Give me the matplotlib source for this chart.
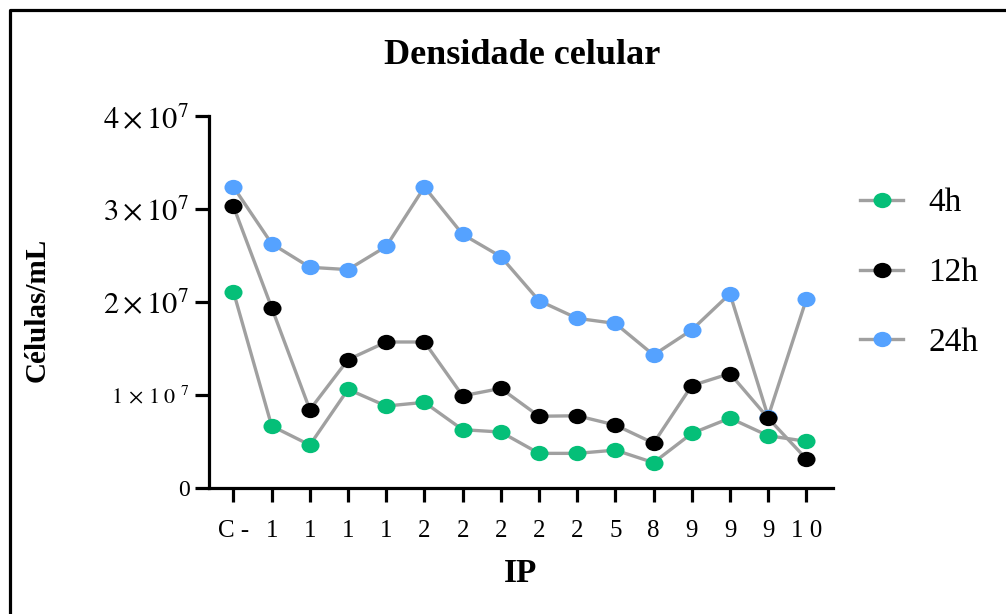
import matplotlib
matplotlib.use("Agg")
import matplotlib.pyplot as plt
from matplotlib.lines import Line2D
from matplotlib.path import Path
from matplotlib.markers import MarkerStyle
from matplotlib.transforms import ScaledTranslation
import numpy as np

plt.rcParams['font.family'] = ['Liberation Serif', 'DejaVu Serif']
plt.rcParams['mathtext.fontset'] = 'stix'

# data (células/mL)
categorias = ['C -', '1', '1', '1', '1', '2', '2', '2', '2', '2', '5', '8', '9', '9', '9', '1 0']
h4 = [2.11e7, 0.665e7, 0.46e7, 1.06e7, 0.88e7, 0.92e7, 0.625e7, 0.60e7,
      0.37e7, 0.37e7, 0.405e7, 0.27e7, 0.585e7, 0.75e7, 0.56e7, 0.50e7]
h12 = [3.03e7, 1.94e7, 0.84e7, 1.38e7, 1.57e7, 1.57e7, 0.99e7, 1.07e7,
       0.77e7, 0.775e7, 0.675e7, 0.48e7, 1.10e7, 1.23e7, 0.75e7, 0.31e7]
h24 = [3.24e7, 2.63e7, 2.375e7, 2.35e7, 2.60e7, 3.24e7, 2.73e7, 2.49e7,
       2.015e7, 1.825e7, 1.77e7, 1.43e7, 1.70e7, 2.09e7, 0.765e7, 2.03e7]

yticks = [0, 1e7, 2e7, 3e7, 4e7]
ytick_labels = ['0', r'$1\,\times\,1\;0^{\;\,7}$', r'$2\times10^{7}$', r'$3\times10^{7}$', r'$4\times10^{7}$']

# slightly wide ellipse marker, like the original
circ = Path.unit_circle()
oval = MarkerStyle(Path(circ.vertices * [1.18, 1.0], circ.codes))

fig = plt.figure(figsize=(10.06, 6.14), dpi=100)
ax = fig.add_axes([0.2078, 0.2057, 0.6203, 0.6046])

x = np.arange(len(categorias))
series = [('24h', h24, '#55a2ff'), ('12h', h12, '#000000'), ('4h', h4, '#05bf78')]
handles = {}
for nome, vals, cor in series:
    ln, = ax.plot(x, vals, color='#a0a0a0', lw=2.4, marker=oval, markersize=13,
                  markerfacecolor=cor, markeredgecolor=cor, markeredgewidth=0,
                  label=nome)
    handles[nome] = ln

ax.set_xlim(-0.64, 15.7)
ax.set_ylim(0, 4e7)
ax.set_xticks(x)
ax.set_xticklabels(categorias, fontsize=18)
ax.set_yticks(yticks)
ax.set_yticklabels(ytick_labels, fontsize=22)
ax.get_yticklabels()[0].set_fontsize(17)
ax.get_yticklabels()[1].set_fontsize(16)
# the "0" sits a bit further from the axis in the original
lbl0 = ax.get_yticklabels()[0]
lbl0.set_transform(lbl0.get_transform() + ScaledTranslation(-10 / 100, 0, fig.dpi_scale_trans))

for s in ['top', 'right']:
    ax.spines[s].set_visible(False)
for s in ['left', 'bottom']:
    ax.spines[s].set_linewidth(2.3)
ax.tick_params(axis='both', length=10, width=2.3)
ax.tick_params(axis='x', pad=13)
ax.tick_params(axis='y', pad=4)

ax.set_xlabel('IP', fontsize=24, fontweight='bold', va='center')
ax.xaxis.set_label_coords(0.5, -0.23)
ax.set_ylabel('Células/mL', fontsize=21, fontweight='bold', va='center')
ax.yaxis.set_label_coords(-0.2756, 0.479)

fig.text(0.519, 0.9104, 'Densidade celular', fontsize=26, fontweight='bold',
         ha='center', va='center')

leg = ax.legend([handles['4h'], handles['12h'], handles['24h']], ['4h', '12h', '24h'],
                loc='center left', bbox_to_anchor=(0.855, 0.5555),
                bbox_transform=fig.transFigure, frameon=False, fontsize=24,
                handlelength=1.3, handletextpad=0.75, labelspacing=1.18,
                borderpad=0, borderaxespad=0)

# frame around the figure (left and top only, like the cropped original)
bx = 9.5 / 1006
by = 1 - 9.5 / 614
fig.add_artist(Line2D([bx, bx, 1], [0, by, by], color='black', lw=2.3,
                      transform=fig.transFigure))

fig.savefig('out.png', dpi=100)
